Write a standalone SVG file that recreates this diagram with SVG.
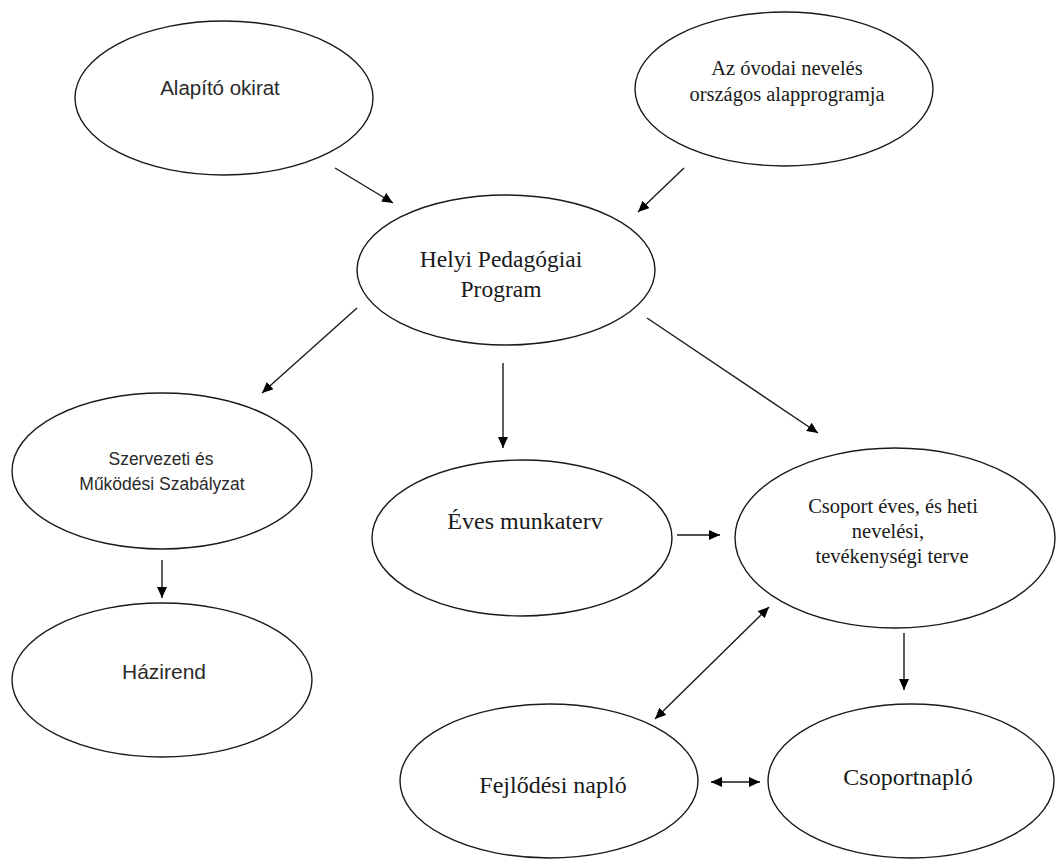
<svg xmlns="http://www.w3.org/2000/svg" width="1056" height="859" viewBox="0 0 1056 859">
<defs>
<style>
.node ellipse{fill:#fff;stroke:#1a1a1a;stroke-width:1.4}
.sans{font-family:"Liberation Sans",Arial,sans-serif;fill:#2a2a2a;text-anchor:middle}
.serif{font-family:"Liberation Serif","Times New Roman",serif;fill:#1a1a1a;text-anchor:middle}
#connectors line{stroke:#1a1a1a;stroke-width:1.4;fill:none}
.a{marker-end:url(#ah)}
.d{marker-start:url(#ah);marker-end:url(#ah)}
</style>
<marker id="ah" markerUnits="userSpaceOnUse" markerWidth="12" markerHeight="10" refX="11" refY="5" orient="auto-start-reverse">
<path d="M0,0 L11,5 L0,10 Z" fill="#000"/>
</marker>
</defs>
<rect width="1056" height="859" fill="#fff"/>

<g id="connectors">
<line class="a" x1="335" y1="168" x2="393" y2="203"/>
<line class="a" x1="684" y1="168" x2="638" y2="212"/>
<line class="a" x1="357" y1="308" x2="262" y2="393"/>
<line class="a" x1="503" y1="363" x2="503" y2="448"/>
<line class="a" x1="647" y1="318" x2="818" y2="433"/>
<line class="a" x1="162" y1="560" x2="162" y2="598"/>
<line class="a" x1="677" y1="535" x2="720" y2="535"/>
<line class="a" x1="904" y1="633" x2="904" y2="690"/>
<line class="d" x1="769" y1="607" x2="655" y2="719"/>
<line class="d" x1="711" y1="782" x2="760" y2="782"/>
</g>

<g id="alapito" class="node">
<ellipse cx="224" cy="98" rx="149" ry="77"/>
<text class="sans" x="220" y="95" font-size="20.5">Alapító okirat</text>
</g>

<g id="ovodai" class="node">
<ellipse cx="784" cy="89" rx="149" ry="77"/>
<text class="serif" x="787" y="75" font-size="20.5">Az óvodai nevelés</text>
<text class="serif" x="787" y="101" font-size="20.5">országos alapprogramja</text>
</g>

<g id="helyi" class="node">
<ellipse cx="506" cy="270" rx="149" ry="75"/>
<text class="serif" x="501" y="267" font-size="23.5">Helyi Pedagógiai</text>
<text class="serif" x="501" y="297" font-size="23.5">Program</text>
</g>

<g id="szmsz" class="node">
<ellipse cx="162" cy="471" rx="150" ry="78"/>
<text class="sans" x="161" y="465" font-size="17.5">Szervezeti és</text>
<text class="sans" x="162" y="490" font-size="17.5">Működési Szabályzat</text>
</g>

<g id="hazirend" class="node">
<ellipse cx="162" cy="680" rx="150" ry="77"/>
<text class="sans" x="164" y="679" font-size="21">Házirend</text>
</g>

<g id="eves" class="node">
<ellipse cx="522" cy="538" rx="150" ry="78"/>
<text class="serif" x="525" y="529" font-size="24">Éves munkaterv</text>
</g>

<g id="csoportterv" class="node">
<ellipse cx="895" cy="538" rx="160" ry="90"/>
<text class="serif" x="893" y="513" font-size="20.5">Csoport éves, és heti</text>
<text class="serif" x="888" y="538" font-size="20.5">nevelési,</text>
<text class="serif" x="892" y="563" font-size="20.5">tevékenységi terve</text>
</g>

<g id="fejlodesi" class="node">
<ellipse cx="549" cy="781" rx="149" ry="77"/>
<text class="serif" x="553" y="793" font-size="24">Fejlődési napló</text>
</g>

<g id="csoportnaplo" class="node">
<ellipse cx="911" cy="781" rx="143" ry="77"/>
<text class="serif" x="908" y="785" font-size="24">Csoportnapló</text>
</g>
</svg>
